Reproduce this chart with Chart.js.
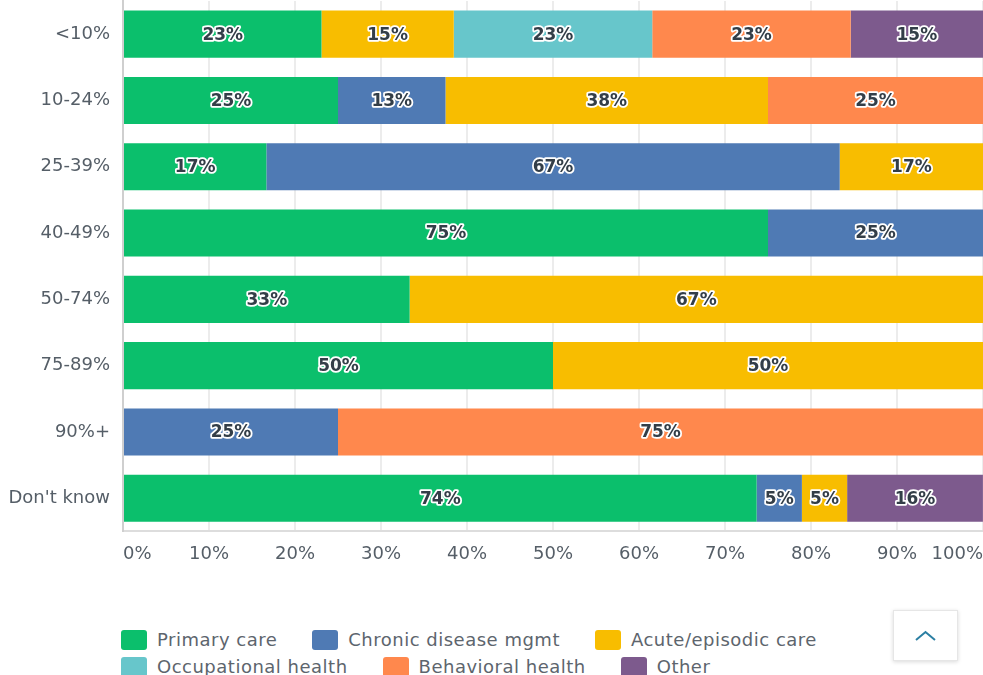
<!DOCTYPE html>
<html>
<head>
<meta charset="utf-8">
<script src="https://cdn.jsdelivr.net/npm/chart.js@4"></script>
<style>
  body { margin: 0; background: #fff; font-family: "DejaVu Sans", sans-serif; }
  #cadre { position: relative; width: 983px; height: 675px; overflow: hidden; }
  #graph { position: absolute; left: 0; top: 0; }
  #legende { position: absolute; left: 121px; top: 626px; width: 790px; display: flex; flex-wrap: wrap; }
  .item { display: flex; align-items: center; margin-right: 35px; height: 27px; font-size: 18px; letter-spacing: 0.5px; color: #5d656d; white-space: nowrap; }
  .carre { width: 26px; height: 20px; border-radius: 3px; margin-right: 10px; }
  #haut { position: absolute; left: 893px; top: 610px; width: 63px; height: 49px; background: #fff;
          border: 1px solid #e6e6e6; box-shadow: 0 1px 4px rgba(0,0,0,0.15); }
</style>
</head>
<body>
<div id="cadre">
  <canvas id="graph" width="983" height="577"></canvas>
  <div id="legende"></div>
  <div id="haut">
    <svg width="63" height="49"><polyline points="22,29 31.5,21 41,29" fill="none" stroke="#2b7fa3" stroke-width="2"/></svg>
  </div>
</div>
<script>
// Catégories (part des patients) et séries en pourcentage
const categories = ['<10%', '10-24%', '25-39%', '40-49%', '50-74%', '75-89%', '90%+', "Don't know"];
const soinsPrimaires = [23.08, 25, 16.67, 75, 33.33, 50, null, 73.68];
const maladiesChroniques = [null, 12.5, 66.67, 25, null, null, 25, 5.26];
const soinsAigus = [15.38, 37.5, 16.67, null, 66.67, 50, null, 5.26];
const santeTravail = [23.08, null, null, null, null, null, null, null];
const santeComportement = [23.08, 25, null, null, null, null, 75, null];
const autre = [15.38, null, null, null, null, null, null, 15.79];
const graduations = [0, 10, 20, 30, 40, 50, 60, 70, 80, 90, 100];

const series = [
    { label: 'Primary care', data: soinsPrimaires, couleur: '#0bbf6c' },
    { label: 'Chronic disease mgmt', data: maladiesChroniques, couleur: '#4f7ab4' },
    { label: 'Acute/episodic care', data: soinsAigus, couleur: '#f8bd00' },
    { label: 'Occupational health', data: santeTravail, couleur: '#67c6cb' },
    { label: 'Behavioral health', data: santeComportement, couleur: '#ff884d' },
    { label: 'Other', data: autre, couleur: '#7d5a8d' }
];

// Écrit les pourcentages au centre de chaque segment
const etiquettes = {
    id: 'etiquettes',
    afterDatasetsDraw(chart) {
        const ctx = chart.ctx;
        ctx.save();
        ctx.font = 'bold 17px "DejaVu Sans"';
        ctx.textAlign = 'center';
        ctx.textBaseline = 'middle';
        ctx.lineJoin = 'round';
        ctx.lineWidth = 3.5;
        ctx.strokeStyle = '#ffffff';
        ctx.fillStyle = '#333e48';
        chart.data.datasets.forEach((ds, i) => {
            chart.getDatasetMeta(i).data.forEach((barre, j) => {
                const v = ds.data[j];
                if (!v) return;
                const { x, y } = barre.getCenterPoint();
                const txt = Math.round(v) + '%';
                ctx.strokeText(txt, x, y + 1);
                ctx.fillText(txt, x, y + 1);
            });
        });
        ctx.restore();
    }
};

// Supprime les marges ajoutées par les libellés qui débordent
function sansMarge(scale) {
    scale.paddingTop = 0;
    scale.paddingBottom = 0;
    scale.paddingLeft = 0;
    scale.paddingRight = 0;
}

const chart = new Chart(document.getElementById('graph'), {
    type: 'bar',
    data: {
        labels: categories,
        datasets: series.map(s => ({
            label: s.label,
            data: s.data,
            backgroundColor: s.couleur,
            borderWidth: 0,
            barPercentage: 0.71,
            categoryPercentage: 1
        }))
    },
    options: {
        indexAxis: 'y',
        responsive: false,
        animation: false,
        layout: { padding: { top: 1, right: 0, bottom: 0, left: 0 } },
        plugins: {
            legend: { display: false },
            tooltip: { enabled: false }
        },
        scales: {
            x: {
                stacked: true,
                min: 0,
                max: 100,
                afterBuildTicks: scale => { scale.ticks = graduations.map(v => ({ value: v })); },
                afterFit: sansMarge,
                grid: { color: '#ececec', lineWidth: 2, drawTicks: false },
                border: { display: true, color: '#dddddd', width: 2 },
                ticks: {
                    align: 'inner',
                    padding: 12,
                    color: '#555e67',
                    font: { family: 'DejaVu Sans', size: 18 },
                    callback: v => v + '%'
                }
            },
            y: {
                stacked: true,
                afterFit: scale => { sansMarge(scale); scale.width = 123; },
                grid: { display: false, drawTicks: false },
                border: { display: true, color: '#cfcfcf', width: 2 },
                ticks: {
                    padding: 13,
                    color: '#555e67',
                    font: { family: 'DejaVu Sans', size: 18 }
                }
            }
        }
    },
    plugins: [etiquettes]
});

// Légende en HTML sous le graphique
const legende = document.getElementById('legende');
series.forEach(s => {
    const item = document.createElement('div');
    item.className = 'item';
    item.innerHTML = '<span class="carre" style="background:' + s.couleur + '"></span>' + s.label;
    legende.appendChild(item);
});
</script>
</body>
</html>
